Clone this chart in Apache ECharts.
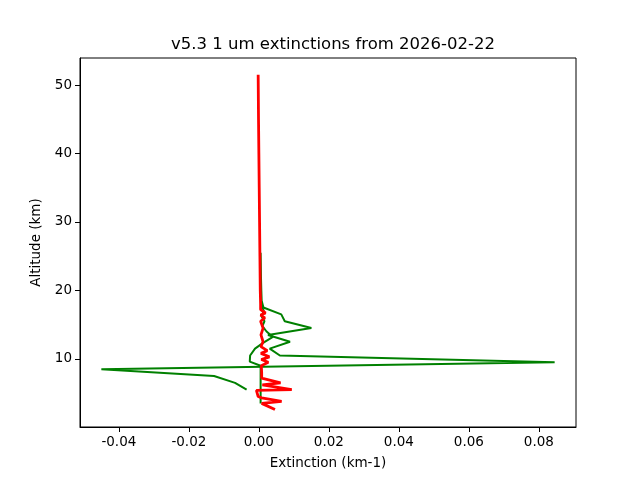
<!DOCTYPE html>
<html>
<head>
<meta charset="utf-8">
<script src="https://cdn.jsdelivr.net/npm/echarts@6/dist/echarts.min.js"></script>
<style>html,body{margin:0;padding:0;background:#fff}#c{width:640px;height:480px}</style>
</head>
<body>
<div id="c"></div>
<script>
var titleText = 'v5.3 1 um extinctions from 2026-02-22';
var xTicks = [-0.04, -0.02, 0.00, 0.02, 0.04, 0.06, 0.08];
var yTicks = [10, 20, 30, 40, 50];

var greenAAlt = [5.5, 6.5, 7.5, 8.5, 9.5, 10.5, 11.5, 12.5, 13.5, 14.5, 15.5, 16.5, 17.5, 18.5, 20, 22, 25.5];
var greenAExt = [-0.0035, -0.0068, -0.0128, -0.0450, 0.0845, 0.0060, 0.0031, 0.0089, 0.0026, 0.0150, 0.0074, 0.0064, 0.0013, 0.0008, 0.0007, 0.0006, 0.0005];

var greenBAlt = [3.5, 9.0, 9.6, 10.5, 11.5, 12.3, 13.2, 14.0, 14.8, 15.5, 16.2, 17.0, 18.0];
var greenBExt = [0.0005, 0.0005, -0.0026, -0.0025, -0.0011, 0.0011, 0.0040, 0.0022, 0.0010, 0.0016, 0.0008, 0.0014, 0.0006];

var redAlt = [51.5, 45, 40, 35, 30, 25, 20, 18, 17.2, 16.7, 16.4, 16.0, 15.5, 14.5, 13.5, 12.5, 11.8, 11.2, 10.8, 10.3, 9.9, 9.5, 9.0, 8.0, 7.2, 6.5, 6.2, 5.5, 5.4, 4.5, 4.3, 3.8, 3.5, 2.6];
var redExt = [-0.0002, -0.0001, 0.0, 0.0001, 0.0002, 0.0003, 0.0004, 0.0005, 0.0005, 0.0019, 0.0005, 0.0017, 0.0005, 0.0012, 0.0006, 0.0012, 0.0006, 0.0024, 0.0006, 0.0030, 0.0007, 0.0027, 0.0007, 0.0008, 0.0008, 0.0062, 0.0010, 0.0094, -0.0007, -0.0002, 0.0008, 0.0065, 0.0008, 0.0046];

function pairs(ext, alt) { return ext.map(function (v, i) { return [v, alt[i]]; }); }

var font = 'DejaVu Sans';
var chart = echarts.init(document.getElementById('c'), null, {renderer: 'canvas'});
chart.setOption({
  animation: false,
  backgroundColor: '#ffffff',
  title: {
    text: titleText, left: 328, top: 31, textAlign: 'center',
    textStyle: {fontFamily: font, fontSize: 16.5, fontWeight: 'normal', color: '#000'}
  },
  grid: {left: 80, right: 64, top: 58, bottom: 53, show: true, borderColor: '#000', borderWidth: 1, backgroundColor: 'transparent'},
  xAxis: {
    type: 'value', min: -0.0511, max: 0.0906,
    name: 'Extinction (km-1)', nameLocation: 'middle', nameGap: 29,
    nameTextStyle: {fontFamily: font, fontSize: 13.5, color: '#000'},
    axisLine: {show: true, onZero: false, lineStyle: {color: '#000', width: 1}},
    axisTick: {show: true, inside: false, length: 5, customValues: xTicks, lineStyle: {color: '#000'}},
    axisLabel: {customValues: xTicks, margin: 8, fontFamily: font, fontSize: 13.5, color: '#000',
      formatter: function (v) { return v.toFixed(2); }},
    splitLine: {show: false}
  },
  yAxis: {
    type: 'value', min: 0.05, max: 53.95,
    name: 'Altitude (km)', nameLocation: 'middle', nameGap: 34, nameRotate: 90,
    nameTextStyle: {fontFamily: font, fontSize: 13.5, color: '#000'},
    axisLine: {show: true, onZero: false, lineStyle: {color: '#000', width: 1}},
    axisTick: {show: true, inside: false, length: 5, customValues: yTicks, lineStyle: {color: '#000'}},
    axisLabel: {customValues: yTicks, margin: 8, fontFamily: font, fontSize: 13.5, color: '#000'},
    splitLine: {show: false}
  },
  series: [
    {type: 'line', data: pairs(greenAExt, greenAAlt), showSymbol: false, symbol: 'none', lineStyle: {color: '#008000', width: 2}, z: 2},
    {type: 'line', data: pairs(greenBExt, greenBAlt), showSymbol: false, symbol: 'none', lineStyle: {color: '#008000', width: 2}, z: 2},
    {type: 'line', data: pairs(redExt, redAlt), showSymbol: false, symbol: 'none', lineStyle: {color: '#ff0000', width: 2.8}, z: 3}
  ]
});
</script>
</body>
</html>
